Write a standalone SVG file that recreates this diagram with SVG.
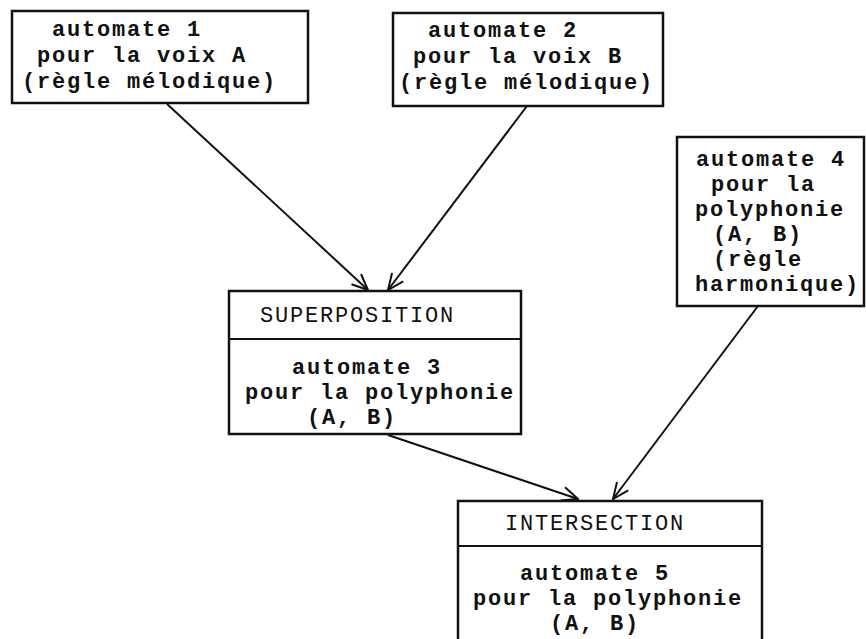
<svg xmlns="http://www.w3.org/2000/svg" width="866" height="639" viewBox="0 0 866 639">
  <style>
    .box { fill: #fff; stroke: #111; stroke-width: 2.5; }
    .div { stroke: #111; stroke-width: 2; }
    .t { font-family: "Liberation Mono", "Courier New", monospace; font-size: 22px; letter-spacing: 1.8px; font-weight: bold; fill: #111; }
    .h { font-family: "Liberation Mono", "Courier New", monospace; font-size: 22px; letter-spacing: 1.8px; font-weight: normal; fill: #111; }
    .edge { fill: none; stroke: #111; stroke-width: 2; }
  </style>
  <defs>
    <marker id="arrow" viewBox="0 0 18 18" refX="17" refY="9" markerWidth="18" markerHeight="18" markerUnits="userSpaceOnUse" orient="auto">
      <path d="M1,2 L17,9 L1,16" fill="none" stroke="#111" stroke-width="2"/>
    </marker>
  </defs>
  <rect width="866" height="639" fill="#fff"/>

  <!-- connectors -->
  <g id="connectors">
    <line class="edge" x1="167" y1="104" x2="368" y2="290" marker-end="url(#arrow)"/>
    <line class="edge" x1="527" y1="106" x2="388" y2="290" marker-end="url(#arrow)"/>
    <line class="edge" x1="388" y1="435" x2="578" y2="499" marker-end="url(#arrow)"/>
    <line class="edge" x1="758" y1="306" x2="613" y2="499" marker-end="url(#arrow)"/>
  </g>

  <!-- automate 1 -->
  <g id="automate1">
    <rect class="box" x="12" y="11" width="296" height="92"/>
    <text class="t" x="52" y="36">automate 1</text>
    <text class="t" x="37" y="62">pour la voix A</text>
    <text class="t" x="22" y="88">(règle mélodique)</text>
  </g>

  <!-- automate 2 -->
  <g id="automate2">
    <rect class="box" x="393" y="13" width="270" height="93"/>
    <text class="t" x="428" y="37">automate 2</text>
    <text class="t" x="413" y="63">pour la voix B</text>
    <text class="t" x="399" y="89">(règle mélodique)</text>
  </g>

  <!-- automate 4 -->
  <g id="automate4">
    <rect class="box" x="677" y="137" width="187" height="169"/>
    <text class="t" x="696" y="166">automate 4</text>
    <text class="t" x="711" y="191">pour la</text>
    <text class="t" x="695" y="216">polyphonie</text>
    <text class="t" x="713" y="241">(A, B)</text>
    <text class="t" x="713" y="266">(règle</text>
    <text class="t" x="695" y="291">harmonique)</text>
  </g>

  <!-- superposition / automate 3 -->
  <g id="superposition">
    <rect class="box" x="229" y="291" width="292" height="143"/>
    <line class="div" x1="229" y1="339" x2="521" y2="339"/>
    <text class="h" x="260" y="322">SUPERPOSITION</text>
    <text class="t" x="292" y="374">automate 3</text>
    <text class="t" x="245" y="399">pour la polyphonie</text>
    <text class="t" x="307" y="424">(A, B)</text>
  </g>

  <!-- intersection / automate 5 -->
  <g id="intersection">
    <rect class="box" x="458" y="501" width="304" height="150"/>
    <line class="div" x1="458" y1="546" x2="762" y2="546"/>
    <text class="h" x="505" y="530">INTERSECTION</text>
    <text class="t" x="520" y="580">automate 5</text>
    <text class="t" x="473" y="605">pour la polyphonie</text>
    <text class="t" x="550" y="630">(A, B)</text>
  </g>
</svg>
